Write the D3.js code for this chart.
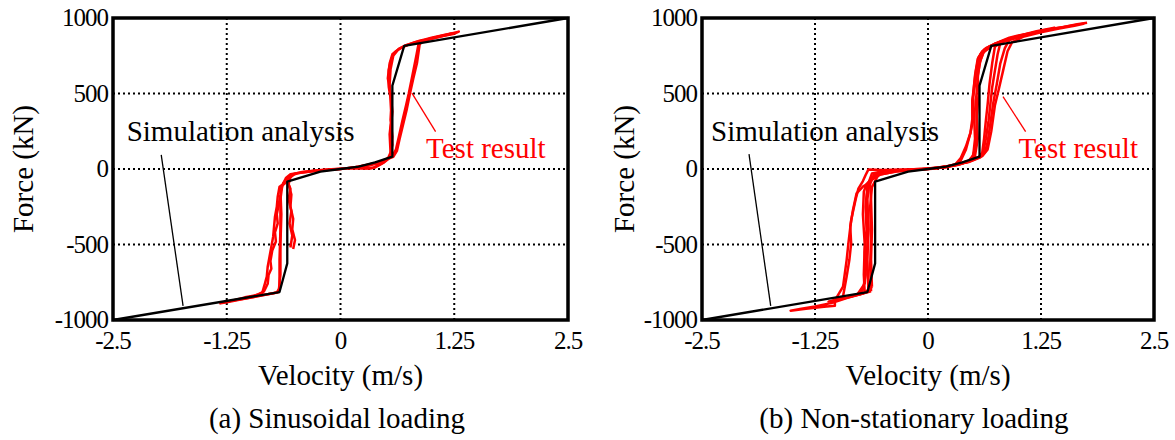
<!DOCTYPE html>
<html><head><meta charset="utf-8">
<script src="https://cdn.jsdelivr.net/npm/d3@7"></script>
</head><body style="margin:0">
<svg id="c" width="1175" height="440"></svg>
<script>
// ---------- data ----------
const xTicks = [-2.5, -1.25, 0, 1.25, 2.5];
const xTickLabels = ["-2.5", "-1.25", "0", "1.25", "2.5"];
const yTicks = [-1000, -500, 0, 500, 1000];
const yTickLabels = ["-1000", "-500", "0", "500", "1000"];
const gridX = [-1.25, 0, 1.25];
const gridY = [-500, 0, 500];

// simulation analysis (same model for both panels)
const simVelocity = [-2.5, -0.67, -0.585, -0.585, -0.22, 0, 0.2, 0.38, 0.57, 0.57, 0.70, 2.5];
const simForce    = [-1000, -815, -625, -84, -18, 0, 16, 44, 82, 552, 815, 1000];

// (a) sinusoidal loading – test result loops [velocity, force]
const testA1 = [[-0.52,-530],[-0.50,-470],[-0.53,-400],[-0.52,-330],[-0.55,-250],[-0.54,-170],[-0.57,-100],[-0.55,-55],[-0.50,-32],[-0.42,-22],[-0.30,-12],[-0.15,-4],[0.0,2],[0.15,6],[0.28,4],[0.36,8],[0.45,35],[0.53,70],[0.56,120],[0.57,214],[0.55,325],[0.56,435],[0.53,545],[0.53,656],[0.56,730],[0.60,775],[0.66,800],[0.75,825],[0.87,850],[1.0,868],[1.12,885],[1.22,898],[1.30,910],[1.27,902],[1.15,885],[1.02,865],[0.90,845],[0.87,825],[0.84,700],[0.80,600],[0.76,490],[0.73,400],[0.69,300],[0.65,200],[0.62,120],[0.58,80],[0.45,50],[0.30,28],[0.15,10],[0.0,0],[-0.15,-6],[-0.30,-14],[-0.45,-24],[-0.55,-45],[-0.60,-85],[-0.64,-105],[-0.67,-117],[-0.69,-183],[-0.70,-250],[-0.72,-316],[-0.73,-382],[-0.74,-448],[-0.76,-515],[-0.78,-581],[-0.80,-647],[-0.81,-713],[-0.83,-757],[-0.86,-820],[-0.95,-840],[-1.10,-862],[-1.22,-878],[-1.32,-890],[-1.25,-882],[-1.10,-865],[-0.95,-848],[-0.80,-830],[-0.70,-818],[-0.67,-790],[-0.67,-600],[-0.66,-400],[-0.66,-200],[-0.64,-110],[-0.60,-60],[-0.55,-35],[-0.45,-25],[-0.30,-14],[-0.15,-5],[0,1],[0.15,8],[0.30,22],[0.42,40],[0.52,68],[0.55,110],[0.54,230],[0.56,340],[0.55,450],[0.54,560],[0.55,660],[0.58,750],[0.64,795],[0.72,820],[0.85,845],[1.0,870],[1.15,890],[1.28,905]];
const testA2 = [[1.25,895],[1.1,878],[0.95,855],[0.86,835],[0.83,740],[0.79,620],[0.75,500],[0.72,420],[0.68,320],[0.64,210],[0.61,130],[0.57,85],[0.44,48],[0.32,30],[0.2,15],[0.05,3],[-0.1,-3],[-0.25,-10],[-0.42,-20],[-0.52,-35],[-0.58,-70],[-0.62,-100],[-0.65,-115],[-0.66,-170],[-0.68,-240],[-0.70,-300],[-0.69,-360],[-0.72,-420],[-0.71,-480],[-0.75,-540],[-0.77,-610],[-0.76,-660],[-0.79,-700],[-0.80,-760],[-0.84,-810],[-0.92,-835],[-1.05,-850],[-1.18,-870],[-1.28,-882],[-1.2,-873],[-1.05,-858],[-0.9,-840],[-0.75,-825],[-0.68,-815],[-0.66,-700],[-0.66,-500],[-0.65,-300],[-0.66,-150],[-0.63,-95],[-0.58,-55],[-0.5,-30],[-0.35,-18],[-0.2,-8],[-0.05,-1],[0.1,5],[0.25,6],[0.32,3],[0.38,10],[0.47,40],[0.54,75],[0.57,160],[0.55,260],[0.57,380],[0.55,500],[0.52,600],[0.54,700],[0.57,760],[0.63,790],[0.72,818],[0.82,840],[0.95,858],[1.08,878],[1.2,895],[1.27,900]];
const testA3 = [[-0.55,-520],[-0.53,-440],[-0.56,-360],[-0.54,-280],[-0.57,-200],[-0.55,-130],[-0.58,-88]];

// (b) non-stationary loading – test result loops [velocity, force]
const testB1 = [[-0.62,-780],[-0.63,-600],[-0.62,-400],[-0.63,-200],[-0.64,-100],[-0.60,-40],[-0.45,-15],[-0.25,-4],[0,2],[0.2,14],[0.33,32],[0.45,55],[0.50,90],[0.52,200],[0.51,350],[0.50,480],[0.52,620],[0.55,730],[0.60,780],[0.68,812],[0.80,845],[0.90,870],[1.0,885],[1.2,905],[1.4,930],[1.6,950],[1.72,962],[1.62,948],[1.45,930],[1.25,905],[1.05,875],[0.93,840],[0.88,780],[0.83,650],[0.78,520],[0.74,420],[0.70,250],[0.66,130],[0.60,85],[0.45,48],[0.30,28],[0.10,6],[-0.10,-2],[-0.30,-4],[-0.50,-6],[-0.66,-4],[-0.69,-40],[-0.72,-80],[-0.77,-130],[-0.80,-200],[-0.85,-338],[-0.88,-490],[-0.90,-603],[-0.94,-779],[-1.03,-870],[-1.03,-905],[-1.15,-912],[-1.35,-925],[-1.52,-938],[-1.40,-925],[-1.25,-910],[-1.05,-885],[-0.9,-855],[-0.75,-830],[-0.66,-810],[-0.62,-780]];
const testB2 = [[-0.66,-800],[-0.67,-600],[-0.66,-400],[-0.68,-200],[-0.66,-95],[-0.58,-40],[-0.4,-14],[-0.2,-3],[0,3],[0.2,16],[0.35,40],[0.42,130],[0.47,240],[0.50,330],[0.49,450],[0.52,560],[0.55,680],[0.58,760],[0.64,800],[0.75,832],[0.90,862],[1.05,890],[1.2,912],[1.40,935],[1.3,920],[1.15,900],[1.0,878],[0.90,855],[0.85,800],[0.80,700],[0.76,560],[0.72,430],[0.69,300],[0.66,180],[0.63,110],[0.58,78],[0.45,46],[0.3,26],[0.1,5],[-0.1,-2],[-0.3,-8],[-0.5,-15],[-0.62,-30],[-0.66,-95],[-0.72,-117],[-0.79,-161],[-0.83,-272],[-0.86,-382],[-0.85,-492],[-0.87,-603],[-0.90,-713],[-0.94,-845],[-1.0,-860],[-1.1,-878],[-1.0,-868],[-0.85,-845],[-0.72,-825],[-0.66,-800]];
const testB3 = [[-0.70,-820],[-0.71,-700],[-0.70,-500],[-0.72,-300],[-0.71,-150],[-0.68,-100],[-0.6,-50],[-0.45,-22],[-0.25,-10],[0,1],[0.2,12],[0.35,30],[0.48,60],[0.53,150],[0.54,300],[0.53,450],[0.55,600],[0.57,700],[0.61,770],[0.70,815],[0.85,848],[1.0,875],[1.15,900],[1.05,880],[0.9,855],[0.80,835],[0.77,760],[0.74,650],[0.71,540],[0.69,430],[0.67,320],[0.64,200],[0.61,110],[0.56,78],[0.42,44],[0.25,20],[0.05,2],[-0.15,-6],[-0.35,-16],[-0.52,-35],[-0.62,-70],[-0.65,-95],[-0.67,-200],[-0.66,-400],[-0.68,-600],[-0.70,-760],[-0.78,-830],[-0.86,-845],[-0.78,-832],[-0.70,-820]];
const testB4 = [[-0.63,-810],[-0.64,-650],[-0.63,-450],[-0.64,-250],[-0.62,-120],[-0.55,-40],[-0.35,-15],[-0.1,-3],[0.1,8],[0.3,25],[0.44,48],[0.52,85],[0.55,200],[0.54,350],[0.56,500],[0.55,620],[0.58,720],[0.62,780],[0.72,820],[0.85,850],[1.0,878],[0.92,862],[0.82,842],[0.74,810],[0.71,700],[0.68,560],[0.66,430],[0.64,320],[0.62,200],[0.60,110],[0.57,82],[0.40,42],[0.2,14],[0,0],[-0.2,-6],[-0.4,-14],[-0.55,-28],[-0.63,-60],[-0.67,-110],[-0.69,-250],[-0.68,-400],[-0.70,-550],[-0.69,-700],[-0.72,-800],[-0.76,-830],[-0.68,-818],[-0.63,-810]];
const testB5 = [[0.30,30],[0.36,70],[0.42,150],[0.47,240],[0.49,330],[0.49,450],[0.51,560],[0.53,650],[0.56,740],[0.62,790],[0.70,815]];
const testB6 = [[0.72,825],[0.9,865],[1.1,895],[1.3,920],[1.5,940],[1.65,958],[1.76,968]];

const panelTitles = ["(a) Sinusoidal loading", "(b) Non-stationary loading"];
const xTitle = "Velocity (m/s)";
const yTitle = "Force (kN)";
const simLabel = "Simulation analysis";
const testLabel = "Test result";
// annotation anchors [velocity, force]: label start, leader start, leader end
const simLabelPos = [[-2.35, 185], [-2.4, 185]];
const simLeader = [[[-1.97, 93], [-1.73, -907]], [[-1.98, 99], [-1.74, -907]]];
const testLabelPos = [[0.94, 73], [1.0, 73]];
const testLeader = [[[1.045, 247], [0.785, 503]], [[1.08, 247], [0.83, 479]]];

// ---------- drawing ----------
const svg = d3.select("#c");
const FONT = '"Liberation Serif", serif';
const panels = [
  {x0: 113, x1: 568, y0: 18, y1: 320, tests: [testA1, testA2, testA3], yTitleX: 33, cx: 337},
  {x0: 702, x1: 1154, y0: 18, y1: 320, tests: [testB1, testB2, testB3, testB4, testB5, testB6], yTitleX: 634, cx: 914}
];

panels.forEach((p, i) => {
  const x = d3.scaleLinear().domain([-2.5, 2.5]).range([p.x0, p.x1]);
  const y = d3.scaleLinear().domain([-1000, 1000]).range([p.y1, p.y0]);
  const g = svg.append("g");
  const txt = () => g.append("text").attr("font-family", "Liberation Serif").style("font-family", FONT);

  g.selectAll(".gx").data(gridX).join("line")
    .attr("x1", d => x(d)).attr("x2", d => x(d)).attr("y1", p.y0).attr("y2", p.y1)
    .attr("stroke", "#000").attr("stroke-width", 2).attr("stroke-dasharray", "2 3");
  g.selectAll(".gy").data(gridY).join("line")
    .attr("y1", d => y(d)).attr("y2", d => y(d)).attr("x1", p.x0).attr("x2", p.x1)
    .attr("stroke", "#000").attr("stroke-width", 2).attr("stroke-dasharray", "2 3");

  const line = d3.line().x(d => x(d[0])).y(d => y(d[1]));
  g.selectAll(".t").data(p.tests).join("path")
    .attr("d", line).attr("fill", "none").attr("stroke", "#ff0000")
    .attr("stroke-width", 2.5).attr("stroke-linejoin", "round");

  const simPts = simVelocity.map((v, k) => [v, simForce[k]]);
  g.append("path").attr("d", line(simPts)).attr("fill", "none")
    .attr("stroke", "#000").attr("stroke-width", 2.3).attr("stroke-linejoin", "round");

  g.append("rect").attr("x", p.x0).attr("y", p.y0).attr("width", p.x1 - p.x0).attr("height", p.y1 - p.y0)
    .attr("fill", "none").attr("stroke", "#000").attr("stroke-width", 3.5);

  xTicks.forEach((d, k) => {
    txt().attr("x", x(d)).attr("y", p.y1 + 29).attr("text-anchor", "middle")
      .attr("font-size", 25).attr("letter-spacing", -1).text(xTickLabels[k]);
  });
  yTicks.forEach((d, k) => {
    txt().attr("x", p.x0 - 5).attr("y", y(d) + 8).attr("text-anchor", "end")
      .attr("font-size", 25).attr("letter-spacing", -1).text(yTickLabels[k]);
  });

  txt().attr("x", x(0)).attr("y", 385).attr("text-anchor", "middle")
    .attr("font-size", 29).text(xTitle);
  txt().attr("transform", `translate(${p.yTitleX},${y(0)}) rotate(-90)`)
    .attr("text-anchor", "middle").attr("font-size", 29).text(yTitle);
  txt().attr("x", p.cx).attr("y", 428).attr("text-anchor", "middle")
    .attr("font-size", 29).text(panelTitles[i]);

  txt().attr("x", x(simLabelPos[i][0])).attr("y", y(simLabelPos[i][1]))
    .attr("font-size", 29).attr("fill", "#000").text(simLabel);
  g.append("line").attr("x1", x(simLeader[i][0][0])).attr("y1", y(simLeader[i][0][1]))
    .attr("x2", x(simLeader[i][1][0])).attr("y2", y(simLeader[i][1][1]))
    .attr("stroke", "#000").attr("stroke-width", 1.3);
  txt().attr("x", x(testLabelPos[i][0])).attr("y", y(testLabelPos[i][1]))
    .attr("font-size", 29).attr("fill", "#ff0000").text(testLabel);
  g.append("line").attr("x1", x(testLeader[i][0][0])).attr("y1", y(testLeader[i][0][1]))
    .attr("x2", x(testLeader[i][1][0])).attr("y2", y(testLeader[i][1][1]))
    .attr("stroke", "#ff0000").attr("stroke-width", 1.3);
});
</script></body></html>
